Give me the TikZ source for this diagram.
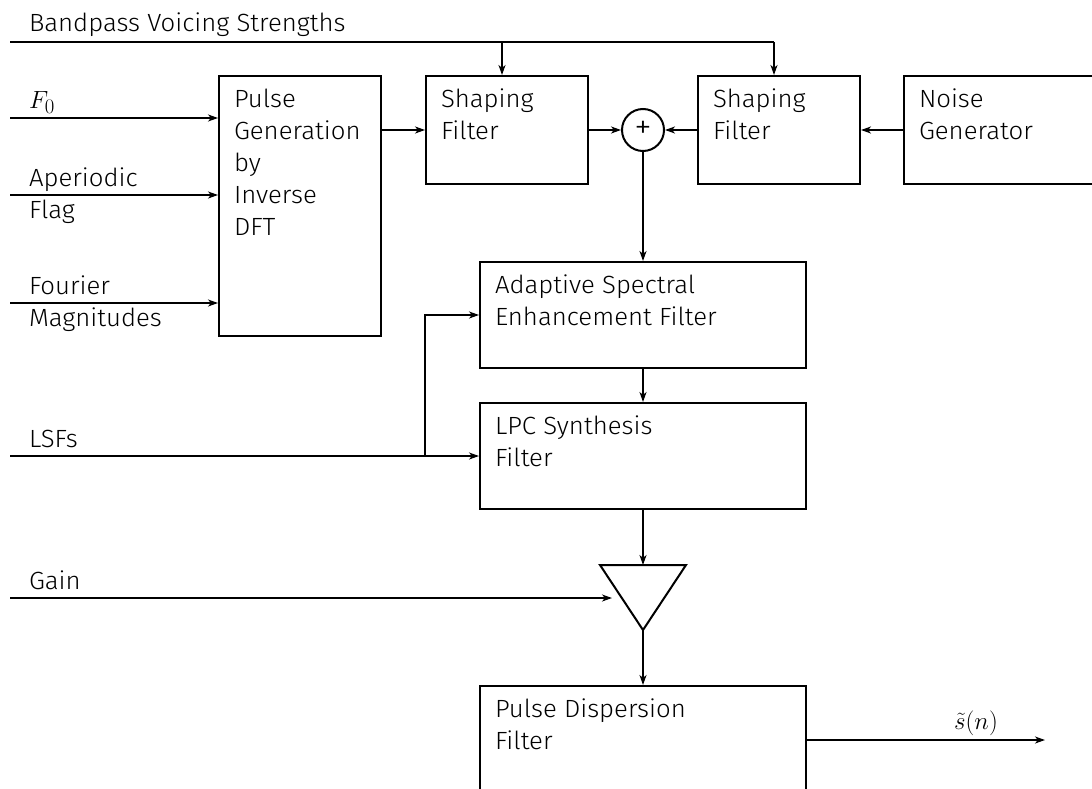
\documentclass[tikz,border=0pt]{standalone}
\usepackage[no-math]{fontspec}
\setmainfont{Fira Sans Light}[FakeStretch=1.035]
\usetikzlibrary{arrows.meta}
\begin{document}
\begin{tikzpicture}[x=1pt,y=-1pt,
  line width=2pt,
  every node/.style={font=\fontsize{24.88}{32}\selectfont},
  blk/.style={draw, rectangle, inner sep=0pt},
  txt/.style={anchor=north west, align=left, inner xsep=15pt, inner ysep=13pt},
  lbl/.style={anchor=base west, align=left, inner sep=0pt},
  arr/.style={-{Stealth[length=10pt,width=7pt,inset=3pt]}},
]
\useasboundingbox (0,0) rectangle (1092,789);
\clip (0,0) rectangle (1092,789);

% boxes
\node[blk, minimum width=162pt, minimum height=260pt] (pg) at (300,206) {};
\node[txt] (pgt) at (pg.north west) {Pulse\\Generation\\by\\Inverse\\DFT};
\node[blk, minimum width=162pt, minimum height=108pt] (sf1) at (507,130) {};
\node[txt] (sf1t) at (sf1.north west) {Shaping\\Filter};
\node[blk, minimum width=162pt, minimum height=108pt] (sf2) at (779,130) {};
\node[txt] (sf2t) at (sf2.north west) {Shaping\\Filter};
\node[blk, minimum width=200pt, minimum height=108pt] (ng) at (1004,130) {};
\node[txt] (ngt) at (ng.north west) {Noise\\Generator};
\node[draw, circle, minimum size=42pt, inner sep=0pt, font=\fontsize{34}{34}\selectfont] (sum) at (643,130) {+};
\node[blk, minimum width=326pt, minimum height=106pt] (ase) at (643,315) {};
\node[txt] (aset) at (ase.north west) {Adaptive Spectral\\Enhancement Filter};
\node[blk, minimum width=326pt, minimum height=106pt] (lpc) at (643,456) {};
\node[txt] (lpct) at (lpc.north west) {LPC Synthesis\\Filter};
\node[blk, minimum width=326pt, minimum height=108pt] (pdf) at (643,740) {};
\node[txt] (pdft) at (pdf.north west) {Pulse Dispersion\\Filter};

% amplifier triangle
\coordinate (atl) at (600,565);
\coordinate (atr) at (686,565);
\coordinate (aap) at (643,630);
\coordinate (atop) at (643,565);
\draw[line join=miter] (atl) -- (atr) -- (aap) -- cycle;

% input labels
\node[lbl] (lbvs) at (28,32) {Bandpass Voicing Strengths};
\node[lbl] (lf0) at (28,109) {$F_0$};
\node[lbl] (lap) at (28,218) {Aperiodic\\Flag};
\node[lbl] (lfm) at (28,326) {Fourier\\Magnitudes};
\node[lbl] (llsf) at (28,447) {LSFs};
\node[lbl] (lgain) at (28,589) {Gain};

% input start points
\coordinate (ibvs) at (10,42);
\coordinate (if0) at (10,118);
\coordinate (iap) at (10,195);
\coordinate (ifm) at (10,303);
\coordinate (ilsf) at (10,456);
\coordinate (igain) at (10,598);
\coordinate (igainend) at (612,598);
\coordinate (bv1) at (502,42);
\coordinate (bv2) at (774,42);
\coordinate (lsfj) at (425,456);
\coordinate (out) at (1045,740);

% connectors
\draw (ibvs) -- (bv2);
\draw[arr] (bv1) -- (bv1 |- sf1.north);
\draw[arr] (bv2) -- (bv2 |- sf2.north);
\draw[arr] (if0) -- (if0 -| pg.west);
\draw[arr] (iap) -- (iap -| pg.west);
\draw[arr] (ifm) -- (ifm -| pg.west);
\draw[arr] (pg.east |- sf1.west) -- (sf1.west);
\draw[arr] (sf1.east) -- (sum.west);
\draw[arr] (sf2.west) -- (sum.east);
\draw[arr] (ng.west) -- (sf2.east);
\draw[arr] (sum.south) -- (ase.north);
\draw[arr] (ase.south) -- (lpc.north);
\draw[arr] (ilsf) -- (lpc.west);
\draw[arr] (lsfj) |- (ase.west);
\draw[arr] (lpc.south) -- (atop);
\draw[arr] (igain) -- (igainend);
\draw[arr] (aap) -- (pdf.north);
\draw[arr] (pdf.east) -- node[pos=0.71, above, inner sep=3pt] (lout) {$\tilde{s}(n)$} (out);
\end{tikzpicture}
\end{document}
